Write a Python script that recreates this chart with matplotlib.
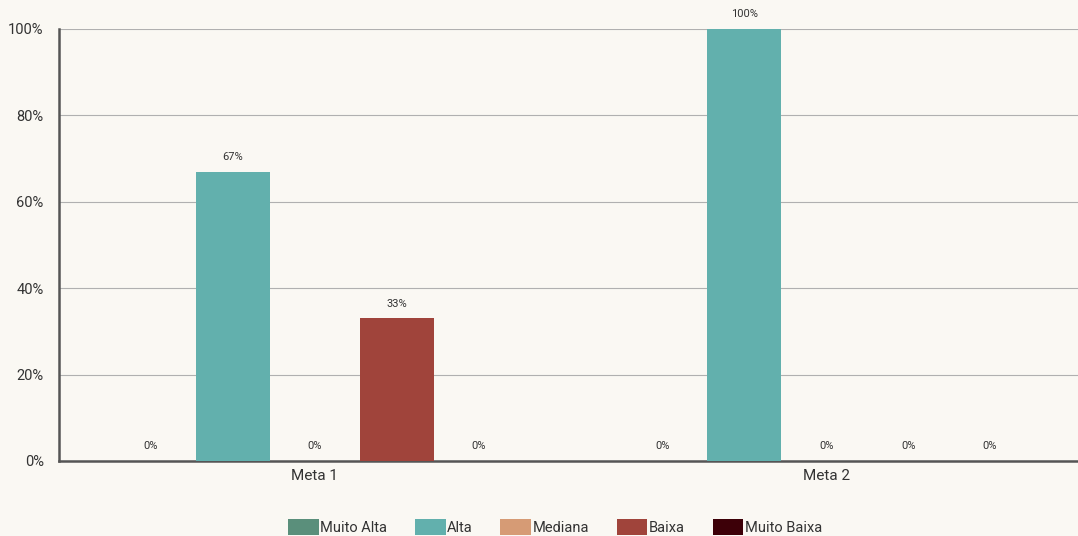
import matplotlib
matplotlib.use("Agg")
import matplotlib.pyplot as plt
import numpy as np

categories = ["Meta 1", "Meta 2"]
series_names = ["Muito Alta", "Alta", "Mediana", "Baixa", "Muito Baixa"]
values = {
    "Muito Alta": [0, 0],
    "Alta": [67, 100],
    "Mediana": [0, 0],
    "Baixa": [33, 0],
    "Muito Baixa": [0, 0],
}
colors = ["#5a8f7b", "#62b0ad", "#d69b75", "#a0443b", "#3d0008"]
yticks = [0, 20, 40, 60, 80, 100]

plt.rcParams['font.family'] = ['Roboto', 'DejaVu Sans']
bg = "#faf8f3"
fig = plt.figure(figsize=(10.78, 5.36), dpi=100, facecolor=bg)
ax = fig.add_axes([59/1078, 1 - 461/536, 1 - 59/1078, (461-29)/536], facecolor=bg)

x = np.arange(len(categories))
step = 82/512
width = 74/512
for i, (name, c) in enumerate(zip(series_names, colors)):
    pos = x + (i - 2) * step
    vals = values[name]
    ax.bar(pos, vals, width=width, color=c, label=name, zorder=3)
    for p, v in zip(pos, vals):
        ax.annotate(f"{v}%", (p, v), xytext=(0, 7), textcoords="offset points",
                    ha="center", va="bottom", fontsize=8, color="#333333")

ax.set_xlim(-0.5, 1.5 - 4/512)
ax.set_ylim(0, 100)
ax.set_yticks(yticks)
ax.set_yticklabels([f"{t}%" for t in yticks], fontsize=10.5, color="#333333")
ax.set_xticks(x)
ax.set_xticklabels(categories, fontsize=11, color="#333333")
ax.tick_params(axis="both", length=0, pad=6)
ax.tick_params(axis="y", pad=11)
ax.grid(axis="y", color="#b0b0b0", linewidth=0.8, zorder=0)
ax.set_axisbelow(True)
for s in ["top", "right"]:
    ax.spines[s].set_visible(False)
for s in ["left", "bottom"]:
    ax.spines[s].set_color("#555555")
    ax.spines[s].set_linewidth(1.8)

leg = fig.legend(loc="lower center", bbox_to_anchor=(555/1078, -0.022), ncol=5,
                 frameon=False, fontsize=10.5, handlelength=2.1, handleheight=1.3,
                 handletextpad=0.1, columnspacing=1.9)
for t in leg.get_texts():
    t.set_color("#333333")

fig.savefig("out.png", dpi=100, facecolor=bg)
